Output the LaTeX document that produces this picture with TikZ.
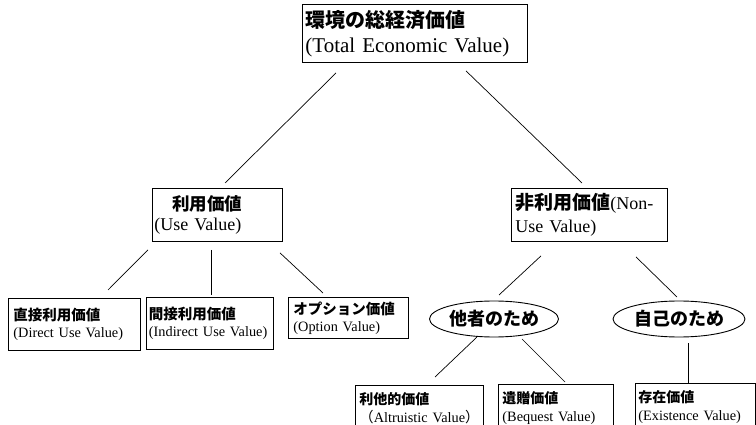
\documentclass[tikz,border=0pt]{standalone}
\usepackage{fontspec}
\setmainfont{Liberation Serif}
\newfontfamily\jpfont{Noto Sans CJK JP}
\usetikzlibrary{calc,shapes.geometric}
\newcommand\jb[2]{{\jpfont\bfseries\fontsize{#1}{#1}\selectfont #2}}
\begin{document}
\begin{tikzpicture}[x=1pt,y=-1pt,
  box/.style={draw, line width=0.9pt, rectangle, align=left, inner ysep=0pt, anchor=north west},
  oval/.style={draw, line width=0.9pt, ellipse, inner sep=0pt},
  link/.style={line width=0.7pt}]
\useasboundingbox (0,0) rectangle (756,425);
\clip (0,0) rectangle (756,425);

\node[box, inner xsep=3pt, text width=219pt, minimum height=58pt, font=\fontsize{21}{25}\selectfont] (t) at (302,4) {\jb{20}{環境の総経済価値}\\(Total Economic Value)};

\node[box, inner xsep=2pt, text width=126pt, minimum height=53pt, font=\fontsize{18}{20}\selectfont] (u) at (152,188) {\hspace*{18pt}\jb{17.5}{利用価値}\\(Use Value)};

\node[box, inner xsep=4pt, text width=148pt, minimum height=53pt, font=\fontsize{18}{23}\selectfont] (n) at (511,188) {\jb{19}{非利用価値}(Non-\\Use Value)};

\node[box, inner xsep=5pt, text width=122pt, minimum height=52pt, font=\fontsize{14.3}{17}\selectfont] (d) at (8,298) {\jb{14.5}{直接利用価値}\\(Direct Use Value)\\[-2pt]};

\node[box, inner xsep=2.5pt, text width=122pt, minimum height=52pt, font=\fontsize{14.3}{17}\selectfont] (i) at (146,297) {\jb{14.5}{間接利用価値}\\\mbox{(Indirect Use Value)}};

\node[box, inner xsep=5pt, text width=110pt, minimum height=41pt, font=\fontsize{14.3}{17}\selectfont] (o) at (288,297) {\jb{14.5}{オプション価値}\\(Option Value)};

\node[oval, minimum width=129pt, minimum height=36pt] (e1) at (494,319) {\jb{18}{他者のため}};
\node[oval, minimum width=132pt, minimum height=36pt] (e2) at (679,319) {\jb{18}{自己のため}};

\node[box, inner xsep=4pt, text width=120pt, minimum height=46pt, font=\fontsize{14.3}{18}\selectfont] (a) at (355,385) {\jb{14}{利他的価値}\\\mbox{{\jpfont （}Altruistic Value{\jpfont ）}}};

\node[box, inner xsep=4pt, text width=107pt, minimum height=47pt, font=\fontsize{14.3}{18}\selectfont] (b) at (498,384) {\jb{14}{遺贈価値}\\\mbox{(Bequest Value)}};

\node[box, inner xsep=3pt, text width=114pt, minimum height=48pt, font=\fontsize{14.3}{18}\selectfont] (e) at (635,383) {\jb{14}{存在価値}\\\mbox{(Existence Value)}};

\draw[link] ($(t.south west)+(34,10)$) -- ($(u.north west)+(73,-5)$);
\draw[link] ($(t.south west)+(164,8)$) -- ($(n.north west)+(71,-5)$);
\draw[link] ($(u.south west)+(-4,8)$) -- ($(d.north west)+(100,-8)$);
\draw[link] ($(u.south west)+(59,8)$) -- ($(i.north west)+(65,-2)$);
\draw[link] ($(u.south west)+(128,11)$) -- ($(o.north west)+(35,-4)$);
\draw[link] ($(n.south west)+(30,14)$) -- ($(e1)+(5,-24)$);
\draw[link] ($(n.south west)+(125,15)$) -- ($(e2)+(-2,-22)$);
\draw[link] ($(e1)+(-17,18)$) -- ($(a.north west)+(80,-8)$);
\draw[link] ($(e1)+(28,20)$) -- ($(b.north west)+(67,-2)$);
\draw[link] ($(e2)+(9,24)$) -- ($(e.north west)+(53,0)$);
\end{tikzpicture}
\end{document}
